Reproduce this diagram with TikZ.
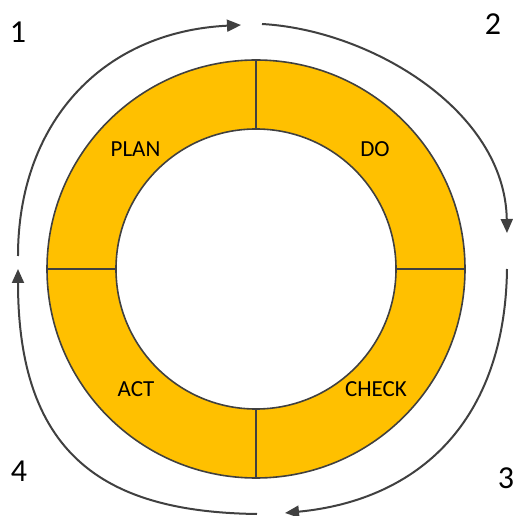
\documentclass[tikz,border=0pt]{standalone}
\usepackage{fontspec}
\setmainfont{Carlito}
\usetikzlibrary{arrows.meta}
\definecolor{gold}{HTML}{FFC000}
\definecolor{edge}{HTML}{404040}
\tikzset{
  sector/.style={fill=gold,draw=edge,line width=1.6pt},
  flow/.style={draw=edge,line width=2pt,-{Triangle[length=14pt,width=12pt]}},
  phase/.style={font=\fontsize{23}{26}\selectfont,text=black,inner sep=0pt},
  stepnum/.style={font=\fontsize{32}{36}\selectfont,text=black,inner sep=0pt}
}
\begin{document}
\begin{tikzpicture}[x=1pt,y=1pt]
\useasboundingbox (-256,-247) rectangle (257,269);
% ring sectors
\foreach \a in {0,90,180,270}{
  \draw[sector] (\a:209) arc[start angle=\a,end angle=\a+90,radius=209]
    -- (\a+90:140) arc[start angle=\a+90,end angle=\a,radius=140] -- cycle;
}
% labels
\node[phase] (plan) at (-120.5,119.5) {PLAN};
\node[phase] (do) at (119,119.5) {DO};
\node[phase] (act) at (-120,-120.5) {ACT};
\node[phase] (check) at (120,-120.5) {CHECK};
% numbers
\node[stepnum] (n1) at (-238,237) {1};
\node[stepnum] (n2) at (237,245) {2};
\node[stepnum] (n3) at (250,-209) {3};
\node[stepnum] (n4) at (-237,-202) {4};
% arrow end points
\coordinate (a1s) at (-238,13);
\coordinate (a1e) at (-15,244);
\coordinate (a2s) at (6,245);
\coordinate (a2e) at (251,36);
\coordinate (a3s) at (251,0);
\coordinate (a3e) at (29,-244);
\coordinate (a4s) at (1,-245);
\coordinate (a4e) at (-238,0);
\draw[flow] (a1s) .. controls (-238,144) and (-156,237) .. (a1e);
\draw[flow] (a2s) .. controls (114,239) and (249,159) .. (a2e);
\draw[flow] (a3s) .. controls (249,-151) and (164,-231) .. (a3e);
\draw[flow] (a4s) .. controls (-146,-243) and (-238,-191) .. (a4e);
\end{tikzpicture}
\end{document}
